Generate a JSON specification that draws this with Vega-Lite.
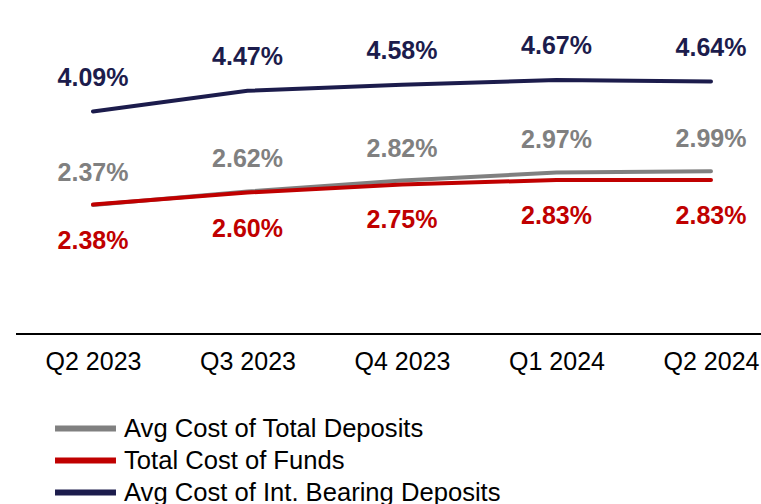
{
  "$schema": "https://vega.github.io/schema/vega-lite/v6.json",
  "autosize": "none",
  "width": 745,
  "height": 334,
  "padding": {"left": 16, "top": 0, "right": 0, "bottom": 170},
  "background": "white",
  "config": {"view": {"stroke": null}, "font": "Liberation Sans"},
  "data": {"values": [
    {"quarter": "Q2 2023", "series": "Avg Cost of Total Deposits", "value": 2.37},
    {"quarter": "Q3 2023", "series": "Avg Cost of Total Deposits", "value": 2.62},
    {"quarter": "Q4 2023", "series": "Avg Cost of Total Deposits", "value": 2.82},
    {"quarter": "Q1 2024", "series": "Avg Cost of Total Deposits", "value": 2.97},
    {"quarter": "Q2 2024", "series": "Avg Cost of Total Deposits", "value": 2.99},
    {"quarter": "Q2 2023", "series": "Total Cost of Funds", "value": 2.38},
    {"quarter": "Q3 2023", "series": "Total Cost of Funds", "value": 2.60},
    {"quarter": "Q4 2023", "series": "Total Cost of Funds", "value": 2.75},
    {"quarter": "Q1 2024", "series": "Total Cost of Funds", "value": 2.83},
    {"quarter": "Q2 2024", "series": "Total Cost of Funds", "value": 2.83},
    {"quarter": "Q2 2023", "series": "Avg Cost of Int. Bearing Deposits", "value": 4.09},
    {"quarter": "Q3 2023", "series": "Avg Cost of Int. Bearing Deposits", "value": 4.47},
    {"quarter": "Q4 2023", "series": "Avg Cost of Int. Bearing Deposits", "value": 4.58},
    {"quarter": "Q1 2024", "series": "Avg Cost of Int. Bearing Deposits", "value": 4.67},
    {"quarter": "Q2 2024", "series": "Avg Cost of Int. Bearing Deposits", "value": 4.64}
  ]},
  "transform": [{"calculate": "format(datum.value, '.2f') + '%'", "as": "label"}],
  "encoding": {
    "x": {"field": "quarter", "type": "ordinal", "sort": null,
      "scale": {"type": "point", "range": [77, 695], "padding": 0},
      "axis": {"title": null, "domain": false, "ticks": false, "labelAngle": 0, "labelFontSize": 25, "labelColor": "#000000", "labelPadding": 15, "labelFont": "Liberation Sans"}},
    "y": {"field": "value", "type": "quantitative", "scale": {"domain": [0, 6.14], "nice": false, "zero": true}, "axis": null}
  },
  "layer": [
    {"mark": {"type": "rule", "color": "#000000", "strokeWidth": 2}, "encoding": {"x": null, "y": {"datum": 0}}},
    {"mark": {"type": "line", "strokeWidth": 4, "strokeCap": "round"},
      "encoding": {"color": {"field": "series", "type": "nominal",
        "scale": {"domain": ["Avg Cost of Total Deposits", "Total Cost of Funds", "Avg Cost of Int. Bearing Deposits"], "range": ["#808080", "#c00000", "#1c1c4c"]},
        "legend": {"title": null, "orient": "none", "legendX": 56, "legendY": 415, "padding": 0, "symbolType": "M-3,0H3", "symbolSize": 413, "symbolStrokeWidth": 6, "symbolStrokeCap": "round", "labelFontSize": 25.6, "labelColor": "#000000", "labelOffset": 25, "labelLimit": 600, "rowPadding": 4, "labelFont": "Liberation Sans"}}}},
    {"transform": [{"filter": "datum.series === 'Avg Cost of Int. Bearing Deposits'"}],
      "mark": {"type": "text", "dy": -34, "fontSize": 25, "fontWeight": "bold", "color": "#1c1c4c"},
      "encoding": {"text": {"field": "label"}}},
    {"transform": [{"filter": "datum.series === 'Avg Cost of Total Deposits'"}],
      "mark": {"type": "text", "dy": -32, "fontSize": 25, "fontWeight": "bold", "color": "#808080"},
      "encoding": {"text": {"field": "label"}}},
    {"transform": [{"filter": "datum.series === 'Total Cost of Funds'"}],
      "mark": {"type": "text", "dy": 36, "fontSize": 25, "fontWeight": "bold", "color": "#c00000"},
      "encoding": {"text": {"field": "label"}}}
  ]
}
